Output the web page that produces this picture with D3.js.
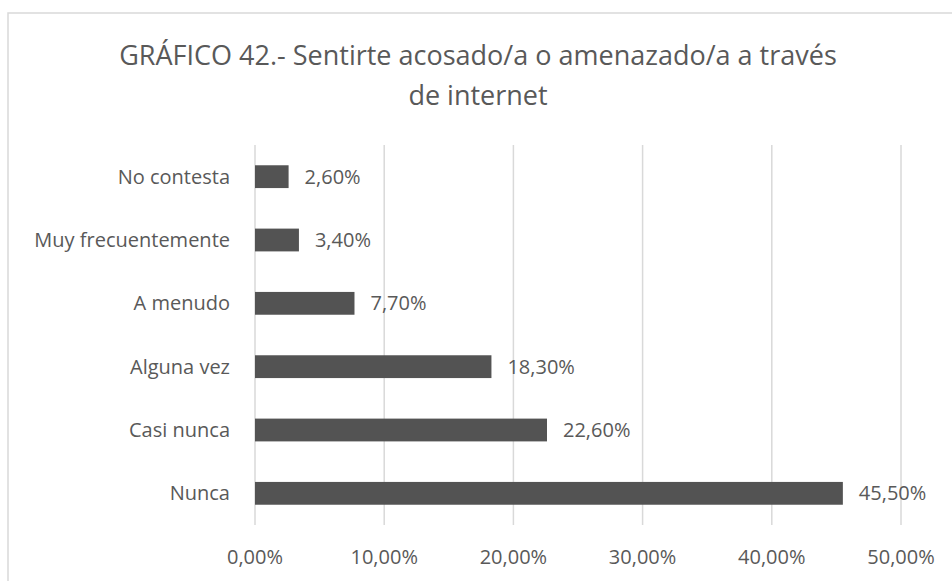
<!DOCTYPE html>
<html lang="en">
<head>
<meta charset="utf-8">
<script src="https://d3js.org/d3.v7.min.js"></script>
<style>
  body { margin: 0; background: #fff; }
  text { font-family: "Open Sans", sans-serif; fill: #595959; }
</style>
</head>
<body>
<div id="my_dataviz"></div>
<script>
// chart data
var categories = ["No contesta", "Muy frecuentemente", "A menudo", "Alguna vez", "Casi nunca", "Nunca"];
var values = [2.6, 3.4, 7.7, 18.3, 22.6, 45.5];
var tickValues = [0, 10, 20, 30, 40, 50];
var titleLines = ["GRÁFICO 42.- Sentirte acosado/a o amenazado/a a través", "de internet"];

var fmt = function(v) { return v.toFixed(2).replace(".", ",") + "%"; };

var W = 952, H = 581;
var margin = {top: 145, right: 51, bottom: 56, left: 255},
    width = W - margin.left - margin.right,
    height = H - margin.top - margin.bottom;

var root = d3.select("#my_dataviz")
  .append("svg")
  .attr("width", W)
  .attr("height", H);

// chart area border (bottom and right are cut off)
root.append("rect")
  .attr("x", 8).attr("y", 13)
  .attr("width", 1000).attr("height", 1000)
  .style("fill", "white")
  .style("stroke", "#d9d9d9")
  .style("stroke-width", 1.5);

// title
root.append("text")
  .attr("text-anchor", "middle")
  .attr("font-size", "27px")
  .selectAll("tspan")
  .data(titleLines)
  .enter()
  .append("tspan")
    .attr("x", 478)
    .attr("y", function(d, i) { return 65 + i * 40; })
    .text(function(d) { return d; });

var svg = root.append("g")
  .attr("transform", "translate(" + margin.left + "," + margin.top + ")");

var x = d3.scaleLinear()
  .domain([0, 50])
  .range([0, width]);

var y = d3.scaleBand()
  .domain(categories)
  .range([0, height])
  .paddingInner(0.64)
  .paddingOuter(0.32);

// gridlines
svg.append("g")
  .selectAll("line")
  .data(tickValues)
  .enter()
  .append("line")
    .attr("x1", function(d) { return x(d); })
    .attr("x2", function(d) { return x(d); })
    .attr("y1", 0)
    .attr("y2", height)
    .style("stroke", "#d9d9d9")
    .style("stroke-width", 1.5);

// x tick labels
svg.append("g")
  .selectAll("text")
  .data(tickValues)
  .enter()
  .append("text")
    .attr("x", function(d) { return x(d); })
    .attr("y", height + 39)
    .attr("text-anchor", "middle")
    .attr("font-size", "20px")
    .text(fmt);

// category labels
svg.append("g")
  .selectAll("text")
  .data(categories)
  .enter()
  .append("text")
    .attr("x", -25)
    .attr("y", function(d) { return y(d) + y.bandwidth() / 2; })
    .attr("dy", "0.35em")
    .attr("text-anchor", "end")
    .attr("font-size", "20px")
    .text(function(d) { return d; });

// bars
svg.append("g")
  .selectAll("rect")
  .data(values)
  .enter()
  .append("rect")
    .attr("x", x(0))
    .attr("y", function(d, i) { return y(categories[i]); })
    .attr("width", function(d) { return x(d) - x(0); })
    .attr("height", y.bandwidth())
    .style("fill", "#535353");

// value labels
svg.append("g")
  .selectAll("text")
  .data(values)
  .enter()
  .append("text")
    .attr("x", function(d) { return x(d) + 16; })
    .attr("y", function(d, i) { return y(categories[i]) + y.bandwidth() / 2; })
    .attr("dy", "0.35em")
    .attr("font-size", "20px")
    .text(fmt);
</script>
</body>
</html>
